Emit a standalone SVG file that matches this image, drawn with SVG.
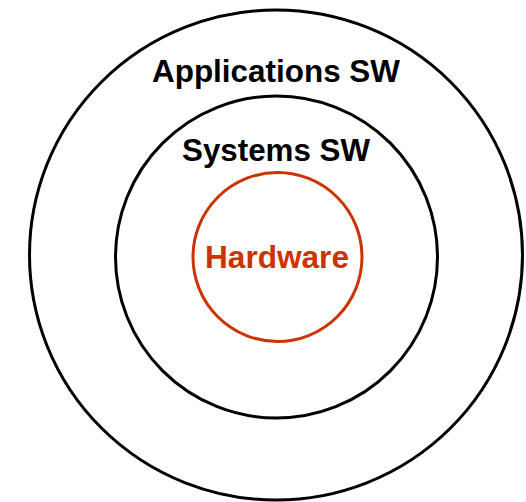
<svg xmlns="http://www.w3.org/2000/svg" width="526" height="502" viewBox="0 0 526 502">
<style>
.ring{fill:none;stroke:#000;stroke-width:3}
.lbl{font-family:"Liberation Sans",Arial,sans-serif;font-weight:bold;font-size:31px;text-anchor:middle;fill:#000}
</style>
<rect width="526" height="502" fill="#fff"/>
<g id="applications">
<ellipse class="ring" cx="276" cy="255" rx="246.5" ry="245"/>
<text class="lbl" x="276" y="82" textLength="248" lengthAdjust="spacingAndGlyphs">Applications SW</text>
</g>
<g id="systems">
<circle class="ring" cx="276.5" cy="257" r="161"/>
<text class="lbl" x="276" y="161" textLength="188" lengthAdjust="spacingAndGlyphs">Systems SW</text>
</g>
<g id="hardware">
<circle cx="277.5" cy="257" r="84.5" fill="none" stroke="#CC3300" stroke-width="3"/>
<text class="lbl" x="277" y="268" textLength="144" lengthAdjust="spacingAndGlyphs" style="fill:#CC3300">Hardware</text>
</g>
<g id="connectors"/>
</svg>
